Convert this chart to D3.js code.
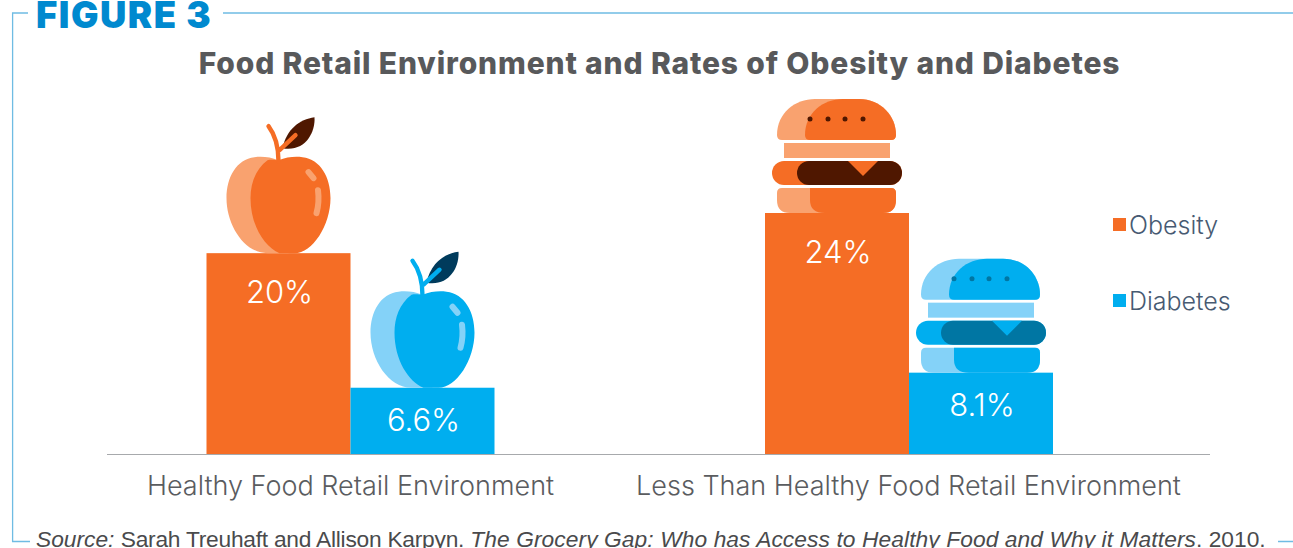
<!DOCTYPE html>
<html>
<head>
<meta charset="utf-8">
<script src="https://cdn.jsdelivr.net/npm/d3@7"></script>
<style>
  html, body { margin: 0; padding: 0; background: #fff; overflow: hidden; }
  text { font-family: Inter, "Liberation Sans", sans-serif; }
</style>
</head>
<body>
<div id="chart"></div>
<script>
// Values
const groups = ['Healthy Food Retail Environment', 'Less Than Healthy Food Retail Environment']
const seriesNames = ['Obesity', 'Diabetes']
const obesity = [20, 24]
const diabetes = [6.6, 8.1]
const valueLabels = [['20%', '24%'], ['6.6%', '8.1%']]
const icons = ['apple', 'burger']

const width = 1293,
  height = 548,
  baseline = 454

const palette = {
  Obesity: { main: '#f56d25', light: '#f9a26f', deep: '#4f1700', leaf: '#4f1700' },
  Diabetes: { main: '#00aeef', light: '#84d2f8', deep: '#0076a3', leaf: '#003b5c' }
}

const svg = d3.select('#chart')
  .append('svg')
  .attr('width', width)
  .attr('height', height)
  .style('display', 'block')

// Scales
const yScale = d3.scaleLinear().domain([0, 24]).range([baseline, 213])
const xGroup = d3.scalePoint().domain(groups).range([350.5, 909])
const xSeries = d3.scaleBand().domain(seriesNames).range([-144, 144])

// Frame around the figure
const frameColor = '#6fbce3'
svg.append('path')
  .attr('fill', 'none')
  .attr('stroke', frameColor)
  .attr('stroke-width', 1.3)
  .attr('d', 'M28,13H12.6V541.5H30M223,13H1293M1278,541.5H1293')

svg.append('text')
  .attr('x', 36)
  .attr('y', 28)
  .attr('fill', '#0089cf')
  .attr('font-size', 36.5)
  .attr('font-weight', 900)
  .attr('letter-spacing', 1.5)
  .text('FIGURE 3')

svg.append('text')
  .attr('x', 659.5)
  .attr('y', 74)
  .attr('text-anchor', 'middle')
  .attr('fill', '#58595b')
  .attr('font-size', 30)
  .attr('font-weight', 800)
  .attr('letter-spacing', 0.85)
  .text('Food Retail Environment and Rates of Obesity and Diabetes')

// Drawn pictures sitting on the bars, origin is the middle of the bar top
const drawApple = (g, c) => {
  g.append('path').attr('fill', c.leaf)
    .attr('d', 'M4,-105C8,-124 21,-134 36,-136C37,-120 26,-101 4,-105Z')
  g.append('path').attr('fill', c.light)
    .attr('d', 'M0,-93C-8,-96 -16,-97 -24,-96C-42,-94 -52,-76 -52,-55C-52,-28 -34,0 -11,0L10,0L0,-60Z')
  g.append('path').attr('fill', c.main)
    .attr('d', 'M0,-93C8,-96 16,-97 24,-96C42,-94 52,-76 52,-55C52,-28 34,0 16,0L1,0C-14,-6 -28,-28 -28,-55C-28,-70 -23,-84 -11,-93C-7,-94 -3,-93 0,-93Z')
  g.append('path').attr('fill', 'none').attr('stroke', c.main).attr('stroke-width', 4.4).attr('stroke-linecap', 'round')
    .attr('d', 'M0,-92C0,-108 -4,-119 -10,-127M1,-103L17,-118')
  g.append('path').attr('fill', 'none').attr('stroke', c.light).attr('stroke-width', 6).attr('stroke-linecap', 'round')
    .attr('d', 'M30,-81L35,-75M39.5,-63C40.5,-55 40,-47 38,-40')
}

const drawBurger = (g, c) => {
  const bun = 'M-60,-78C-60,-100 -42,-114 -22,-114L22,-114C44,-114 59,-97 59,-78Q59,-73 54,-73L-55,-73Q-60,-73 -60,-78Z'
  g.append('path').attr('fill', c.light).attr('d', bun)
  g.append('path').attr('fill', c.main)
    .attr('d', 'M-32,-78C-32,-100 -14,-114 6,-114L22,-114C44,-114 59,-97 59,-78Q59,-73 54,-73L-27,-73Q-32,-73 -32,-78Z')
  g.selectAll('circle').data([-27, -9, 8, 26]).enter().append('circle')
    .attr('cx', d => d).attr('cy', -94).attr('r', 2.5).attr('fill', c.deep)
  g.append('rect').attr('x', -53).attr('y', -70).attr('width', 106).attr('height', 15).attr('fill', c.light)
  g.append('rect').attr('x', -65).attr('y', -52).attr('width', 130).attr('height', 24).attr('rx', 12).attr('fill', c.main)
  g.append('rect').attr('x', -40).attr('y', -52).attr('width', 105).attr('height', 24).attr('rx', 12).attr('fill', c.deep)
  g.append('path').attr('fill', c.main).attr('d', 'M11,-52L41,-52L26,-37Z')
  g.append('path').attr('fill', c.light)
    .attr('d', 'M-60,-20Q-60,-25 -55,-25L54,-25Q59,-25 59,-20L59,-13Q59,0 46,0L-47,0Q-60,0 -60,-13Z')
  g.append('path').attr('fill', c.main)
    .attr('d', 'M-27,-25L54,-25Q59,-25 59,-20L59,-13Q59,0 46,0L-12,0Q-27,0 -27,-13Z')
}

const drawIcon = { apple: drawApple, burger: drawBurger }

// Bars
seriesNames.forEach((name, s) => {
  const values = s === 0 ? obesity : diabetes
  const c = palette[name]
  const layer = svg.append('g').attr('class', name)

  layer.selectAll('rect.bar')
    .data(values)
    .enter()
    .append('rect')
    .attr('class', 'bar')
    .attr('x', (d, i) => xGroup(groups[i]) + xSeries(name))
    .attr('y', d => yScale(d))
    .attr('width', xSeries.bandwidth())
    .attr('height', d => baseline - yScale(d))
    .attr('fill', c.main)

  values.forEach((d, i) => {
    const cx = xGroup(groups[i]) + xSeries(name) + xSeries.bandwidth() / 2
    const g = layer.append('g').attr('transform', `translate(${cx},${yScale(d)})`)
    drawIcon[icons[i]](g, c)
    g.append('text')
      .attr('x', 1)
      .attr('y', s === 0 ? 50 : 43)
      .attr('text-anchor', 'middle')
      .attr('fill', '#fff')
      .attr('font-size', 31)
      .attr('font-weight', 300)
      .text(valueLabels[s][i])
  })
})

// Axis line and group labels
const xAxis = d3.axisBottom(xGroup).tickSize(0).tickPadding(21.8)
const axisG = svg.append('g')
  .attr('transform', `translate(0,${baseline})`)
  .call(xAxis)
axisG.select('.domain').remove()
axisG.selectAll('text')
  .attr('fill', '#5a5c5f')
  .attr('font-size', 27)
  .attr('font-weight', 300)
  .style('font-family', 'Inter')
axisG.selectAll('.tick').attr('transform', (d, i) => `translate(${[350.5, 908.5][i]},0)`)
svg.append('line')
  .attr('x1', 107).attr('x2', 1210)
  .attr('y1', baseline + 0.5).attr('y2', baseline + 0.5)
  .attr('stroke', '#a7a9ac')
  .attr('stroke-width', 1.2)

// Legend
const legendY = d3.scalePoint().domain(seriesNames).range([224.5, 300.5])
const legend = svg.selectAll('g.legend')
  .data(seriesNames)
  .enter()
  .append('g')
  .attr('class', 'legend')
  .attr('transform', d => `translate(1113,${legendY(d)})`)
legend.append('rect')
  .attr('y', -6.5).attr('width', 13).attr('height', 13)
  .attr('fill', d => palette[d].main)
legend.append('text')
  .attr('x', 16).attr('y', 9.5)
  .attr('fill', '#475a72')
  .attr('font-size', 25)
  .attr('font-weight', 300)
  .text(d => d)

// Source line
const source = svg.append('text')
  .attr('x', 36)
  .attr('y', 547)
  .attr('fill', '#4a4a4c')
  .attr('font-size', 22.75)
  .style('font-family', '"Liberation Sans"')
source.append('tspan').attr('font-style', 'italic').text('Source: ')
source.append('tspan').attr('letter-spacing', -0.24).text('Sarah Treuhaft and Allison Karpyn. ')
source.append('tspan').attr('font-style', 'italic').attr('letter-spacing', 0.09).text('The Grocery Gap: Who has Access to Healthy Food and Why it Matters')
source.append('tspan').text('. 2010.')
</script>
</body>
</html>
